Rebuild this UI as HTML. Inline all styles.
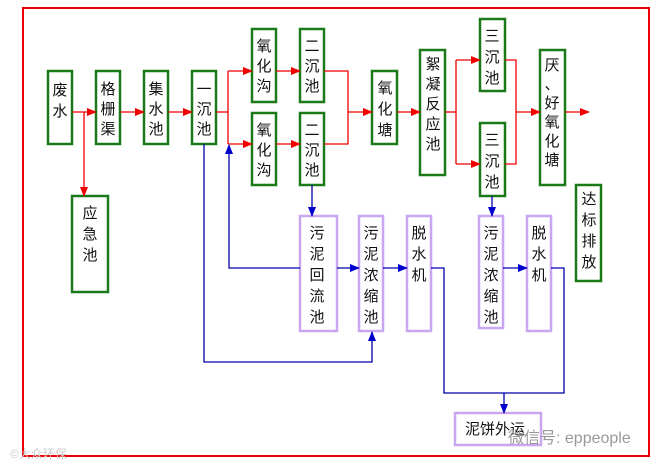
<!DOCTYPE html>
<html><head><meta charset="utf-8"><style>
html,body{margin:0;padding:0;background:#fff;}
svg{display:block;}
text{font-family:"Liberation Sans","Noto Sans CJK SC","WenQuanYi Zen Hei",sans-serif;font-size:15px;fill:#111;}
</style></head><body>
<svg width="656" height="468" viewBox="0 0 656 468" xmlns="http://www.w3.org/2000/svg">
<defs>
<marker id="ar" markerWidth="10" markerHeight="8" refX="9" refY="4" orient="auto" markerUnits="userSpaceOnUse"><path d="M0,0 L10,4 L0,8 z" fill="#e00"/></marker>
<marker id="ab" markerWidth="10" markerHeight="8" refX="9" refY="4" orient="auto" markerUnits="userSpaceOnUse"><path d="M0,0 L10,4 L0,8 z" fill="#00c"/></marker>
</defs>
<rect x="23" y="8" width="626" height="448" fill="none" stroke="#e00" stroke-width="2"/>

<g fill="#fff" stroke="#1a7a1a" stroke-width="2.5">
<rect x="48" y="71" width="24" height="73"/>
<rect x="96" y="71" width="24" height="73"/>
<rect x="144" y="71" width="24" height="73"/>
<rect x="192" y="71" width="24" height="73"/>
<rect x="252" y="29" width="24" height="73"/>
<rect x="252" y="113" width="24" height="72"/>
<rect x="300" y="29" width="24" height="73"/>
<rect x="300" y="113" width="24" height="72"/>
<rect x="72" y="196" width="36" height="96"/>
<rect x="372" y="71" width="25" height="73"/>
<rect x="420" y="50" width="25" height="125"/>
<rect x="480" y="19" width="25" height="72"/>
<rect x="480" y="123" width="25" height="73"/>
<rect x="540" y="50" width="25" height="135"/>
<rect x="576" y="185" width="25" height="96"/>
</g>
<g fill="#fff" stroke="#c9a6f0" stroke-width="2.5">
<rect x="300" y="216" width="37" height="115"/>
<rect x="359" y="216" width="24" height="115"/>
<rect x="407" y="216" width="24" height="115"/>
<rect x="479" y="216" width="24" height="112"/>
<rect x="527" y="216" width="24" height="115"/>
<rect x="455" y="413" width="86" height="32"/>
</g>

<!-- red connectors -->
<g stroke="#e00" stroke-width="1.3" fill="none">
<line x1="72" y1="112" x2="96" y2="112" marker-end="url(#ar)"/>
<line x1="84" y1="112" x2="84" y2="196" marker-end="url(#ar)"/>
<line x1="120" y1="112" x2="144" y2="112" marker-end="url(#ar)"/>
<line x1="168" y1="112" x2="192" y2="112" marker-end="url(#ar)"/>
<polyline points="216,112 228,112"/>
<line x1="228" y1="71" x2="228" y2="144"/>
<line x1="228" y1="71" x2="252" y2="71" marker-end="url(#ar)"/>
<line x1="228" y1="144" x2="252" y2="144" marker-end="url(#ar)"/>
<line x1="276" y1="71" x2="300" y2="71" marker-end="url(#ar)"/>
<line x1="276" y1="144" x2="300" y2="144" marker-end="url(#ar)"/>
<polyline points="324,71 348,71 348,144 324,144"/>
<line x1="348" y1="112" x2="372" y2="112" marker-end="url(#ar)"/>
<line x1="397" y1="112" x2="420" y2="112" marker-end="url(#ar)"/>
<polyline points="445,112 456,112"/>
<line x1="456" y1="60" x2="456" y2="164"/>
<line x1="456" y1="60" x2="480" y2="60" marker-end="url(#ar)"/>
<line x1="456" y1="164" x2="480" y2="164" marker-end="url(#ar)"/>
<polyline points="505,60 516,60 516,164 505,164"/>
<line x1="516" y1="112" x2="540" y2="112" marker-end="url(#ar)"/>
<line x1="565" y1="112" x2="589" y2="112" marker-end="url(#ar)"/>
</g>

<!-- blue connectors -->
<g stroke="#00a" stroke-width="1.3" fill="none">
<polyline points="204,144 204,362 372,362 372,332" marker-end="url(#ab)"/>
<polyline points="300,268 229,268 229,145" marker-end="url(#ab)"/>
<line x1="312" y1="185" x2="312" y2="216" marker-end="url(#ab)"/>
<line x1="337" y1="268" x2="359" y2="268" marker-end="url(#ab)"/>
<line x1="383" y1="268" x2="407" y2="268" marker-end="url(#ab)"/>
<line x1="492" y1="196" x2="492" y2="216" marker-end="url(#ab)"/>
<line x1="503" y1="268" x2="527" y2="268" marker-end="url(#ab)"/>
<polyline points="431,268 444,268 444,393 564,393 564,268 551,268"/>
<line x1="504" y1="393" x2="504" y2="413" marker-end="url(#ab)"/>
</g>

<g text-anchor="middle">
<text x="60" y="95"><tspan x="60">废</tspan><tspan x="60" dy="21">水</tspan></text>
<text x="108" y="94"><tspan x="108">格</tspan><tspan x="108" dy="20">栅</tspan><tspan x="108" dy="20">渠</tspan></text>
<text x="156" y="94"><tspan x="156">集</tspan><tspan x="156" dy="20">水</tspan><tspan x="156" dy="20">池</tspan></text>
<text x="204" y="94"><tspan x="204">一</tspan><tspan x="204" dy="20">沉</tspan><tspan x="204" dy="20">池</tspan></text>
<text x="264" y="51"><tspan x="264">氧</tspan><tspan x="264" dy="20">化</tspan><tspan x="264" dy="20">沟</tspan></text>
<text x="312" y="51"><tspan x="312">二</tspan><tspan x="312" dy="20">沉</tspan><tspan x="312" dy="20">池</tspan></text>
<text x="264" y="135"><tspan x="264">氧</tspan><tspan x="264" dy="20">化</tspan><tspan x="264" dy="20">沟</tspan></text>
<text x="312" y="135"><tspan x="312">二</tspan><tspan x="312" dy="20">沉</tspan><tspan x="312" dy="20">池</tspan></text>
<text x="90" y="218"><tspan x="90">应</tspan><tspan x="90" dy="21">急</tspan><tspan x="90" dy="21">池</tspan></text>
<text x="385" y="93"><tspan x="385">氧</tspan><tspan x="385" dy="21">化</tspan><tspan x="385" dy="21">塘</tspan></text>
<text x="433" y="69"><tspan x="433">絮</tspan><tspan x="433" dy="20">凝</tspan><tspan x="433" dy="20">反</tspan><tspan x="433" dy="20">应</tspan><tspan x="433" dy="20">池</tspan></text>
<text x="492" y="41"><tspan x="492">三</tspan><tspan x="492" dy="21">沉</tspan><tspan x="492" dy="21">池</tspan></text>
<text x="492" y="145"><tspan x="492">三</tspan><tspan x="492" dy="21">沉</tspan><tspan x="492" dy="21">池</tspan></text>
<text x="552" y="70"><tspan x="552">厌</tspan><tspan x="552" dy="19">、</tspan><tspan x="552" dy="19">好</tspan><tspan x="552" dy="19">氧</tspan><tspan x="552" dy="19">化</tspan><tspan x="552" dy="19">塘</tspan></text>
<text x="589" y="204"><tspan x="589">达</tspan><tspan x="589" dy="21">标</tspan><tspan x="589" dy="21">排</tspan><tspan x="589" dy="21">放</tspan></text>
<text x="317" y="238"><tspan x="317">污</tspan><tspan x="317" dy="21">泥</tspan><tspan x="317" dy="21">回</tspan><tspan x="317" dy="21">流</tspan><tspan x="317" dy="21">池</tspan></text>
<text x="371" y="238"><tspan x="371">污</tspan><tspan x="371" dy="21">泥</tspan><tspan x="371" dy="21">浓</tspan><tspan x="371" dy="21">缩</tspan><tspan x="371" dy="21">池</tspan></text>
<text x="419" y="238"><tspan x="419">脱</tspan><tspan x="419" dy="21">水</tspan><tspan x="419" dy="21">机</tspan></text>
<text x="491" y="238"><tspan x="491">污</tspan><tspan x="491" dy="21">泥</tspan><tspan x="491" dy="21">浓</tspan><tspan x="491" dy="21">缩</tspan><tspan x="491" dy="21">池</tspan></text>
<text x="539" y="238"><tspan x="539">脱</tspan><tspan x="539" dy="21">水</tspan><tspan x="539" dy="21">机</tspan></text>
</g>
<text x="465" y="434">泥饼外运</text>
<text x="508" y="443" style="fill:#999;font-size:16px;">微信号: eppeople</text>
<text x="10" y="458" style="fill:#ccc;font-size:12px;">©大众环保</text>
</svg>
</body></html>
